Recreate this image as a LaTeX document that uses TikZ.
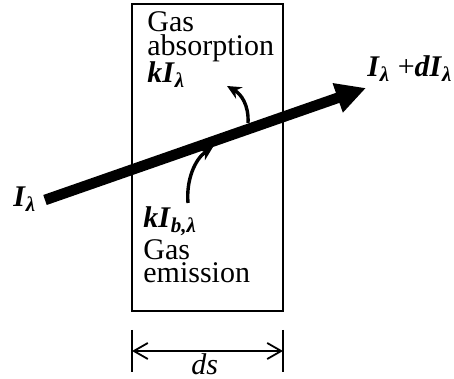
\documentclass[tikz,border=0pt]{standalone}
\usepackage{fontspec}
\setmainfont{Liberation Serif}
\usetikzlibrary{arrows.meta}
\newcommand{\bi}[1]{\textbf{\textit{#1}}}
\begin{document}
\begin{tikzpicture}[
    x=0.5pt,y=0.5pt,
    txt/.style={
        font=\fontsize{15}{12}\selectfont,
        inner sep=0pt,
        anchor=base west
    },
    cell/.style={
        draw=black,
        line width=1.4pt,
        minimum width=75.5pt,
        minimum height=153.5pt,
        inner sep=0pt
    },
    beam/.style={line width=5.3pt, -{Triangle[length=15pt,width=14.5pt]}},
    curved/.style={line width=1.7pt, -{Stealth[length=7pt,width=6.5pt]}},
    dim/.style={line width=0.9pt},
    dimarr/.style={line width=0.9pt, {Straight Barb[length=7pt,width=8pt]}-{Straight Barb[length=7pt,width=8pt]}}
]
    \useasboundingbox (0,0) rectangle (454,379);

    % gas layer
    \node[cell] (layer) at (207.5,221.5) {};

    % labels inside
    \node[txt] (absGas) at (147,347) {Gas};
    \node[txt] (absText) at (147,323) {absorption};
    \node[txt] (absK) at (147,296) {\bi{kI}\textsubscript{\bi{λ}}};
    \node[txt] (emiK) at (143,151) {\bi{kI}\textsubscript{\bi{b,λ}}};
    \node[txt] (emiGas) at (143,119) {Gas};
    \node[txt] (emiText) at (143,96) {emission};

    % intensities
    \node[txt] (Iin) at (13,172) {\bi{I}\textsubscript{\bi{λ}}};
    \node[txt] (Iout) at (367,302) {\bi{I}\textsubscript{\bi{λ}} +\bi{dI}\textsubscript{\bi{λ}}};

    \coordinate (tail) at (45,179);
    \coordinate (tip) at (366,291);
    \draw[beam] (tail) -- (tip);

    % absorption and emission
    \coordinate (absStart) at (248,256);
    \coordinate (absEnd) at (227,293);
    \draw[curved] (absStart) .. controls (249,274) and (241,285) .. (absEnd);
    \coordinate (emiStart) at (188,176);
    \coordinate (emiEnd) at (213,232);
    \draw[curved] (emiStart) .. controls (186,199) and (195,220) .. (emiEnd);

    % thickness
    \coordinate (dl) at (132,28);
    \coordinate (dr) at (283,28);
    \draw[dim] (132,49) -- (132,7);
    \draw[dim] (283,49) -- (283,7);
    \draw[dimarr] (dl) -- (dr);
    \node[txt] (ds) at (191,4) {\textit{ds}};
\end{tikzpicture}
\end{document}
